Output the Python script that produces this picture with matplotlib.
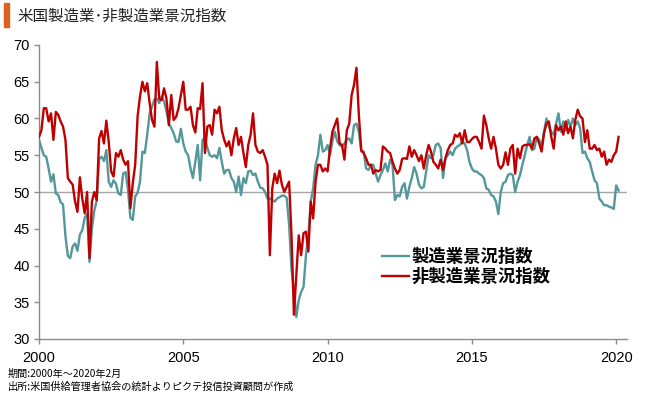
import numpy as np
import matplotlib.pyplot as plt
from matplotlib.patches import Rectangle

plt.rcParams['font.family'] = ['Liberation Sans', 'Noto Sans CJK JP', 'DejaVu Sans']

# ISM manufacturing index, monthly Jan 2000 - Feb 2020
mfg = [
    57.1, 56.0, 55.0, 54.8, 53.2, 51.4, 52.4, 49.8, 49.6, 48.6, 48.3, 44.0,  # 2000
    41.3, 41.0, 42.6, 43.0, 42.0, 44.2, 44.8, 46.5, 47.0, 40.5, 45.0, 47.5,  # 2001
    48.8, 54.5, 54.8, 54.2, 55.7, 51.4, 50.7, 51.6, 51.1, 49.8, 49.6, 52.5,  # 2002
    52.7, 50.3, 46.5, 46.2, 49.4, 49.9, 51.4, 55.5, 55.3, 57.8, 60.7, 61.6,  # 2003
    62.6, 62.7, 62.1, 63.0, 62.3, 61.0, 59.3, 58.7, 58.0, 56.9, 56.8, 58.6,  # 2004
    56.6, 55.5, 55.0, 53.2, 51.9, 54.1, 56.4, 51.6, 57.1, 57.3, 56.0, 55.0,  # 2005
    54.8, 55.0, 54.6, 56.0, 54.1, 52.5, 53.0, 53.0, 51.9, 51.4, 50.0, 52.1,  # 2006
    49.6, 51.9, 51.2, 52.8, 52.9, 52.3, 52.5, 51.4, 50.6, 50.5, 50.0, 49.1,  # 2007
    49.1, 48.9, 48.7, 49.1, 49.3, 49.5, 49.5, 49.2, 45.5, 39.5, 36.5, 33.0,  # 2008
    35.3, 36.4, 37.1, 41.4, 44.1, 48.7, 50.5, 53.7, 55.0, 57.8, 55.5, 55.7,  # 2009
    56.4, 55.0, 56.9, 58.2, 56.9, 56.4, 56.2, 56.6, 57.1, 57.3, 56.6, 59.1,  # 2010
    59.3, 58.2, 55.5, 55.5, 53.2, 53.0, 53.7, 53.7, 52.5, 51.4, 52.3, 53.0,  # 2011
    53.9, 52.8, 54.4, 53.7, 48.9, 49.6, 49.4, 50.7, 51.2, 49.1, 50.7, 51.9,  # 2012
    53.4, 52.5, 51.0, 50.5, 50.7, 52.8, 55.0, 54.6, 55.0, 56.4, 56.6, 56.0,  # 2013
    51.9, 54.6, 55.0, 55.5, 55.0, 55.9, 56.2, 56.4, 56.9, 56.6, 55.7, 54.1,  # 2014
    53.2, 52.8, 52.8, 52.5, 52.3, 51.9, 50.5, 50.3, 49.6, 49.4, 48.7, 47.0,  # 2015
    50.0, 51.2, 51.4, 52.3, 52.5, 52.3, 50.0, 51.4, 52.3, 53.7, 55.0, 56.4,  # 2016
    57.5, 55.7, 55.9, 57.5, 57.1, 56.2, 58.2, 60.0, 58.9, 58.2, 57.8, 59.3,  # 2017
    60.7, 58.2, 59.6, 58.4, 59.8, 58.9, 60.0, 59.1, 59.6, 58.7, 55.3, 55.5,  # 2018
    54.6, 54.1, 52.8, 51.6, 51.2, 49.1, 48.7, 48.2, 48.2, 48.0, 47.9, 47.7,  # 2019
    50.9, 50.2,                                                              # 2020
]

# ISM non-manufacturing index, same months
nonmfg = [
    57.5, 58.4, 61.4, 61.4, 59.6, 60.7, 57.1, 60.9, 60.5, 59.6, 58.9, 57.1,  # 2000
    51.9, 51.4, 51.0, 48.7, 47.3, 52.0, 49.1, 47.1, 50.0, 41.0, 48.7, 50.0,  # 2001
    48.9, 57.3, 58.3, 56.6, 59.7, 56.8, 52.8, 52.1, 55.3, 54.8, 55.7, 54.4,  # 2002
    53.7, 54.2, 47.8, 51.2, 53.7, 60.3, 63.0, 65.0, 63.7, 64.8, 62.1, 59.8,  # 2003
    58.9, 67.7, 62.7, 62.5, 64.1, 62.7, 59.1, 63.2, 59.8, 60.2, 61.4, 63.2,  # 2004
    65.0, 61.2, 61.2, 61.6, 59.1, 58.1, 61.4, 61.3, 64.8, 55.3, 58.9, 59.1,  # 2005
    57.8, 61.2, 60.7, 61.6, 58.4, 57.1, 56.2, 56.9, 55.0, 57.3, 58.7, 56.4,  # 2006
    57.5, 55.3, 53.4, 56.4, 57.8, 60.7, 56.4, 55.5, 55.3, 55.7, 54.8, 53.7,  # 2007
    41.4, 50.5, 52.5, 51.2, 52.9, 51.0, 50.0, 50.7, 51.4, 44.1, 33.3, 38.7,  # 2008
    44.1, 41.4, 44.4, 44.6, 41.9, 48.7, 46.4, 51.4, 53.7, 53.7, 52.8, 53.2,  # 2009
    52.8, 55.9, 58.2, 59.1, 60.0, 56.6, 56.4, 54.4, 58.4, 59.3, 63.2, 64.6,  # 2010
    66.9, 60.5, 55.7, 55.3, 54.6, 53.7, 53.7, 52.5, 53.0, 52.8, 53.0, 56.2,  # 2011
    55.9, 55.5, 55.3, 54.1, 53.2, 52.5, 53.0, 54.5, 54.6, 54.5, 56.2, 54.8,  # 2012
    55.7, 55.0, 54.2, 55.0, 53.2, 55.0, 56.4, 55.5, 54.1, 53.7, 53.2, 54.4,  # 2013
    53.0, 54.6, 55.7, 56.4, 56.6, 57.8, 57.5, 58.0, 56.6, 58.4, 56.8, 56.8,  # 2014
    57.2, 57.5, 57.5, 56.8, 55.9, 60.4, 59.1, 57.3, 55.9, 57.5, 55.9, 53.7,  # 2015
    53.2, 53.7, 55.4, 53.7, 55.9, 56.4, 52.5, 55.9, 54.6, 56.2, 56.4, 56.4,  # 2016
    56.5, 55.9, 57.3, 57.5, 56.6, 55.5, 58.0, 59.3, 59.6, 57.5, 55.9, 59.1,  # 2017
    58.4, 58.9, 57.8, 59.6, 58.0, 58.9, 57.3, 59.8, 61.2, 60.3, 60.0, 56.8,  # 2018
    58.4, 55.9, 55.9, 56.4, 55.7, 55.9, 54.8, 55.5, 53.7, 54.4, 54.1, 55.0,  # 2019
    55.5, 57.5,                                                              # 2020
]

year_ticks = [0, 60, 120, 180, 240]
year_labels = ['2000', '2005', '2010', '2015', '2020']

title = '米国製造業･非製造業景況指数'
labels = ['製造業景況指数', '非製造業景況指数']
note1 = '期間:2000年～2020年2月'
note2 = '出所:米国供給管理者協会の統計よりピクテ投信投資顧問が作成'

teal = '#54989c'
red = '#c00000'
cjk = ['Noto Sans CJK JP', 'DejaVu Sans']

W, H = 650, 395
fig = plt.figure(figsize=(W / 100, H / 100), dpi=100)
ax = fig.add_axes([39 / W, 1 - 339 / H, (627 - 39) / W, (339 - 45) / H])

months = np.arange(len(mfg))
ax.axhline(50, color='#a6a6a6', lw=1.0, zorder=1)
l1, = ax.plot(months, mfg, color=teal, lw=1.7, label=labels[0], zorder=3)
l2, = ax.plot(months, nonmfg, color=red, lw=1.7, label=labels[1], zorder=4)

ax.set_xlim(0, 244.5)
ax.set_ylim(30, 70)
ax.set_yticks(range(30, 71, 5))
ax.set_xticks(year_ticks)
ax.set_xticklabels(year_labels)

for s in ['top', 'right']:
    ax.spines[s].set_visible(False)
for s in ['left', 'bottom']:
    ax.spines[s].set_color('#8c8c8c')
    ax.spines[s].set_linewidth(1.0)
ax.tick_params(axis='both', colors='#8c8c8c', labelcolor='black',
               labelsize=10.5, length=3.5, width=1.0)
ax.tick_params(axis='x', pad=5)
ax.tick_params(axis='y', pad=3)

leg = ax.legend(handles=[l1, l2], loc='upper left',
                bbox_to_anchor=(382 / W, 1 - 248 / H), bbox_transform=fig.transFigure,
                frameon=False, handlelength=1.55, handletextpad=0.15,
                labelspacing=0.1, borderpad=0, borderaxespad=0,
                prop={'family': cjk, 'size': 12.5, 'weight': 'bold'})

# title with orange marker bar
fig.patches.append(Rectangle((4 / W, 1 - 27 / H), 5 / W, 24 / H,
                             transform=fig.transFigure, color='#e0601f'))
fig.text(17 / W, 1 - 16 / H, title, family=cjk, fontsize=11.2,
         va='center', ha='left', color='#222222')

fig.text(8 / W, 1 - 373.5 / H, note1, family=cjk, fontsize=7.3, va='center', ha='left')
fig.text(8 / W, 1 - 386.5 / H, note2, family=cjk, fontsize=7.3, va='center', ha='left')

fig.savefig('out.png', dpi=100)
